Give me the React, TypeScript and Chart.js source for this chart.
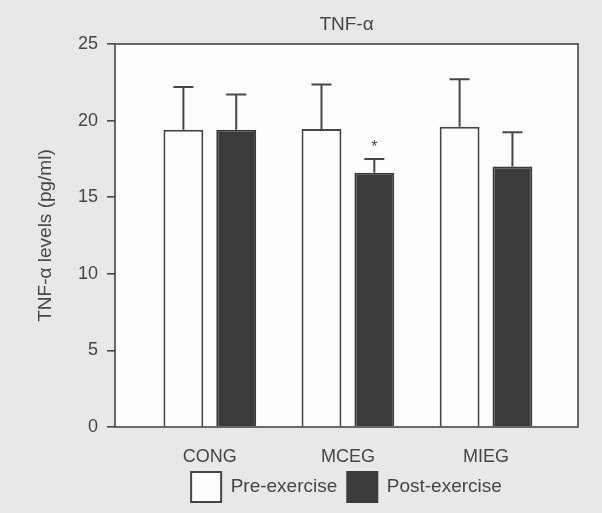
import React, { useEffect, useRef } from "react";
import { Chart, registerables } from "chart.js";

Chart.register(...registerables);

const categories = ["CONG", "MCEG", "MIEG"];
const seriesNames = ["Pre-exercise", "Post-exercise"];
const preValues = [19.4, 19.45, 19.6];
const postValues = [19.4, 16.6, 17.0];
const preErrors = [2.8, 2.9, 3.1];
const postErrors = [2.3, 0.9, 2.24];
const postMarks = ["", "*", ""];
const yMin = 0;
const yMax = 25;
const yStep = 5;

const FONT = "'Liberation Sans', Arial, sans-serif";
const INK = "#464646";
const TEXT = "#464646";

const errorsBySeries = [preErrors, postErrors];
const marksBySeries = [["", "", ""], postMarks];

const framePlugin = {
  id: "frame",
  beforeDraw(chart: any) {
    const { ctx, chartArea, width, height } = chart;
    ctx.save();
    ctx.fillStyle = "#e8e8e8";
    ctx.fillRect(0, 0, width, height);
    ctx.fillStyle = "#fdfdfd";
    ctx.fillRect(chartArea.left, chartArea.top, chartArea.right - chartArea.left, chartArea.bottom - chartArea.top);
    ctx.restore();
  },
  afterDatasetsDraw(chart: any) {
    const { ctx, chartArea } = chart;
    const yScale = chart.scales.y;
    ctx.save();
    ctx.strokeStyle = INK;
    ctx.lineWidth = 2;
    chart.data.datasets.forEach((ds: any, di: number) => {
      const meta = chart.getDatasetMeta(di);
      meta.data.forEach((bar: any, i: number) => {
        const v = ds.data[i].y;
        const e = errorsBySeries[di][i];
        const yTop = yScale.getPixelForValue(v + e);
        const x = bar.x;
        ctx.beginPath();
        ctx.moveTo(x, bar.y);
        ctx.lineTo(x, yTop);
        ctx.moveTo(x - 10, yTop);
        ctx.lineTo(x + 10, yTop);
        ctx.stroke();
        const mark = marksBySeries[di][i];
        if (mark) {
          ctx.fillStyle = TEXT;
          ctx.font = `16px ${FONT}`;
          ctx.textAlign = "center";
          ctx.textBaseline = "middle";
          ctx.fillText(mark, x, yTop - 11);
        }
      });
    });
    ctx.lineWidth = 1.6;
    ctx.strokeRect(chartArea.left, chartArea.top, chartArea.right - chartArea.left, chartArea.bottom - chartArea.top);
    ctx.restore();
  },
};

export default function App() {
  const ref = useRef<HTMLCanvasElement | null>(null);

  useEffect(() => {
    if (!ref.current) return;
    const chart = new Chart(ref.current, {
      type: "bar",
      data: {
        datasets: [
          {
            label: seriesNames[0],
            data: categories.map((_, i) => ({ x: i + 1, y: preValues[i] })),
            backgroundColor: "#fdfdfd",
            borderColor: INK,
            borderWidth: 2,
          },
          {
            label: seriesNames[1],
            data: categories.map((_, i) => ({ x: i + 1, y: postValues[i] })),
            backgroundColor: "#3b3b3b",
            borderColor: "#3b3b3b",
            borderWidth: 2,
          },
        ] as any,
      },
      options: {
        responsive: false,
        animation: false,
        layout: { padding: { left: 24, right: 24, top: 0, bottom: 1 } },
        datasets: {
          bar: { categoryPercentage: 0.765, barPercentage: 0.755 } as any,
        },
        scales: {
          x: {
            type: "linear",
            min: 0.3135,
            max: 3.666,
            offset: false,
            grid: { display: false },
            border: { display: false },
            afterBuildTicks(scale: any) {
              scale.ticks = categories.map((_, i) => ({ value: i + 1 }));
            },
            afterFit(scale: any) {
              scale.height = 35;
            },
            ticks: {
              padding: 11,
              color: TEXT,
              font: { family: FONT, size: 18 },
              maxRotation: 0,
              autoSkip: false,
              callback: (v: any) => categories[Math.round(Number(v)) - 1] ?? "",
            },
          },
          y: {
            min: yMin,
            max: yMax,
            grid: {
              drawOnChartArea: false,
              drawTicks: true,
              tickLength: 8,
              color: INK,
              lineWidth: 1.6,
            },
            border: { display: false },
            afterFit(scale: any) {
              scale.width = 91;
            },
            ticks: {
              stepSize: yStep,
              padding: 9,
              color: TEXT,
              font: { family: FONT, size: 18 },
            },
            title: {
              display: true,
              text: "TNF-α levels (pg/ml)",
              color: TEXT,
              font: { family: FONT, size: 19 },
              padding: { top: 10, bottom: 0 },
            },
          },
        },
        plugins: {
          title: {
            display: true,
            fullSize: false,
            text: "TNF-α",
            color: TEXT,
            font: { family: FONT, size: 19, weight: "normal" },
            padding: { top: 13, bottom: 8.2 },
          },
          legend: {
            position: "bottom",
            fullSize: false,
            labels: {
              boxWidth: 30,
              boxHeight: 30,
              padding: 10,
              color: TEXT,
              font: { family: FONT, size: 19 },
            },
          },
          tooltip: { enabled: false },
        },
      } as any,
      plugins: [framePlugin],
    });
    return () => chart.destroy();
  }, []);

  return (
    <div style={{ position: "fixed", left: 0, top: 0, width: 602, height: 513 }}>
      <canvas ref={ref} width={602} height={513} />
    </div>
  );
}
